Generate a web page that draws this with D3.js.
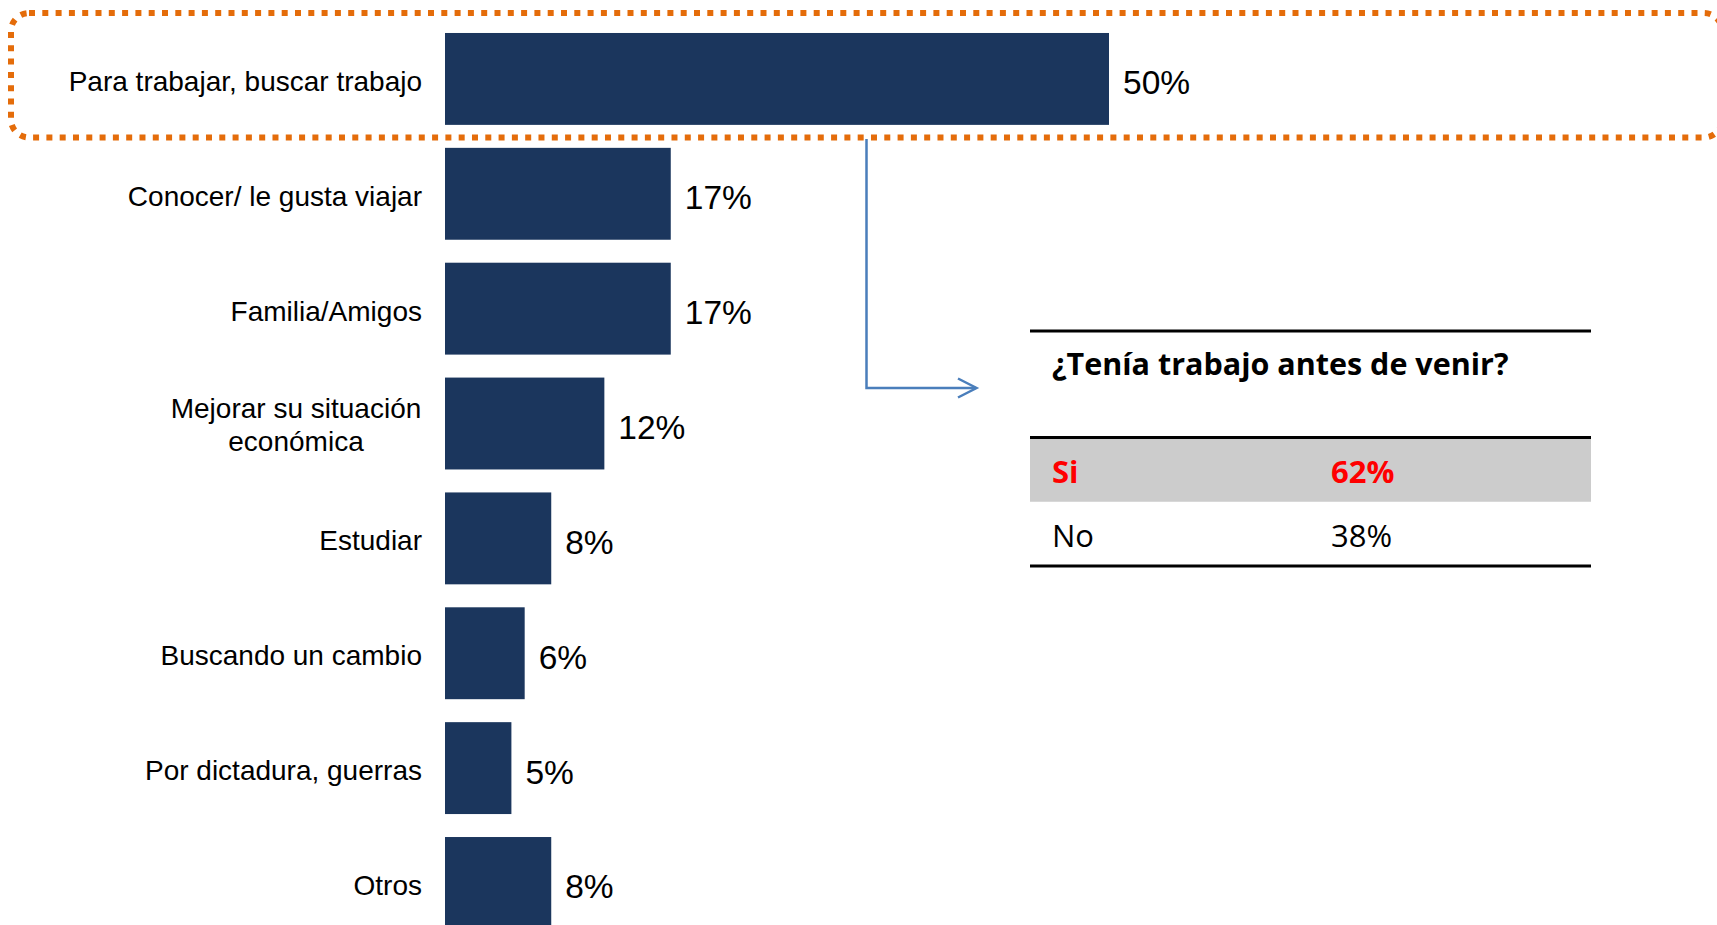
<!DOCTYPE html>
<html lang="es">
<head>
    <meta charset="utf-8">
    <title>Motivos para venir</title>
    <script src="https://d3js.org/d3.v7.min.js"></script>
    <style>
        body { margin: 0; background: #fff; }
        svg { display: block; }
    </style>
</head>
<body>
<script>

    var w = 1717;
    var h = 925;

    // datos del grafico
    var categorias = [
        ["Para trabajar,  buscar trabajo"],
        ["Conocer/ le gusta viajar"],
        ["Familia/Amigos"],
        ["Mejorar su situación", "económica"],
        ["Estudiar"],
        ["Buscando un cambio"],
        ["Por dictadura, guerras"],
        ["Otros"]
    ];
    var valores = [50, 17, 17, 12, 8, 6, 5, 8];

    // tabla de la derecha
    var tablaTitulo = "¿Tenía trabajo antes de venir?";
    var tablaRespuestas = ["Si", "No"];
    var tablaValores = [62, 38];

    var barColor = "#1b365d";
    var naranja = "#e46c0a";
    var azul = "#4a7ebb";

    var svg = d3.select("body")
        .append("svg")
        .attr("width", w)
        .attr("height", h);

    var ids = d3.range(valores.length);

    var x = d3.scaleLinear()
        .domain([0, 50])
        .range([445, 1109]);

    var y = d3.scaleBand()
        .domain(ids)
        .range([21.5, 940.4])
        .paddingInner(0.2)
        .paddingOuter(0.1);

    // barras
    svg.selectAll("rect.bar")
        .data(ids)
        .enter()
        .append("rect")
        .attr("class", "bar")
        .attr("x", x(0))
        .attr("y", function(i) { return y(i); })
        .attr("width", function(i) { return x(valores[i]) - x(0); })
        .attr("height", y.bandwidth())
        .attr("fill", barColor);

    // etiquetas de categoria
    var etiquetas = svg.selectAll("text.cat")
        .data(ids)
        .enter()
        .append("text")
        .attr("class", "cat")
        .attr("font-family", "'Liberation Sans', Arial, sans-serif")
        .attr("font-size", 28)
        .attr("fill", "#000")
        .attr("transform", function(i) {
            var c = y(i) + y.bandwidth() / 2;
            var n = categorias[i].length;
            if (n === 1) return "translate(422," + (c + 12) + ")";
            return "translate(296," + (c - 6) + ")";
        })
        .attr("text-anchor", function(i) { return categorias[i].length === 1 ? "end" : "middle"; });

    etiquetas.selectAll("tspan")
        .data(function(i) { return categorias[i]; })
        .enter()
        .append("tspan")
        .attr("x", 0)
        .attr("dy", function(d, k) { return k === 0 ? 0 : 33; })
        .text(function(d) { return d; });

    // valores
    svg.selectAll("text.val")
        .data(ids)
        .enter()
        .append("text")
        .attr("class", "val")
        .attr("x", function(i) { return x(valores[i]) + 14; })
        .attr("y", function(i) { return y(i) + y.bandwidth() / 2 + 15.5; })
        .attr("font-family", "'Liberation Sans', Arial, sans-serif")
        .attr("font-size", 33.5)
        .attr("fill", "#000")
        .text(function(i) { return valores[i] + "%"; });

    // recuadro punteado naranja
    svg.append("rect")
        .attr("x", 11)
        .attr("y", 13)
        .attr("width", 1711)
        .attr("height", 124.5)
        .attr("rx", 18)
        .attr("ry", 18)
        .attr("fill", "none")
        .attr("stroke", naranja)
        .attr("stroke-width", 6)
        .attr("stroke-dasharray", "6 7.3");

    // flecha
    svg.append("path")
        .attr("d", "M866.5,139 L866.5,388 L976,388")
        .attr("fill", "none")
        .attr("stroke", azul)
        .attr("stroke-width", 2.5);
    svg.append("path")
        .attr("d", "M958,378.5 L976.5,388 L958,397.5")
        .attr("fill", "none")
        .attr("stroke", azul)
        .attr("stroke-width", 2.5);

    // tabla
    var tx0 = 1030, tx1 = 1591;
    var filas = d3.scaleBand()
        .domain(tablaRespuestas)
        .range([437.5, 566]);

    svg.append("rect")
        .attr("x", tx0)
        .attr("y", filas("Si"))
        .attr("width", tx1 - tx0)
        .attr("height", filas.bandwidth())
        .attr("fill", "#cccccc");

    svg.append("text")
        .attr("x", 1052)
        .attr("y", 375)
        .attr("font-family", "'Open Sans', sans-serif")
        .attr("font-weight", "bold")
        .attr("font-size", 30.5)
        .attr("fill", "#000")
        .text(tablaTitulo);

    tablaRespuestas.forEach(function(r, k) {
        var rojo = k === 0;
        var base = filas(r) + 45.5;
        svg.append("text")
            .attr("x", 1052)
            .attr("y", base)
            .attr("font-family", "'Open Sans', sans-serif")
            .attr("font-weight", rojo ? "bold" : "normal")
            .attr("font-size", 31)
            .attr("fill", rojo ? "#ff0000" : "#000")
            .text(r);
        svg.append("text")
            .attr("x", 1331)
            .attr("y", base)
            .attr("font-family", "'Open Sans', sans-serif")
            .attr("font-weight", rojo ? "bold" : "normal")
            .attr("font-size", 31)
            .attr("fill", rojo ? "#ff0000" : "#000")
            .text(tablaValores[k] + "%");
    });

    [331, 437.5, 566].forEach(function(ly) {
        svg.append("line")
            .attr("x1", tx0)
            .attr("x2", tx1)
            .attr("y1", ly)
            .attr("y2", ly)
            .attr("stroke", "#000")
            .attr("stroke-width", 3);
    });

</script>
</body>
</html>
